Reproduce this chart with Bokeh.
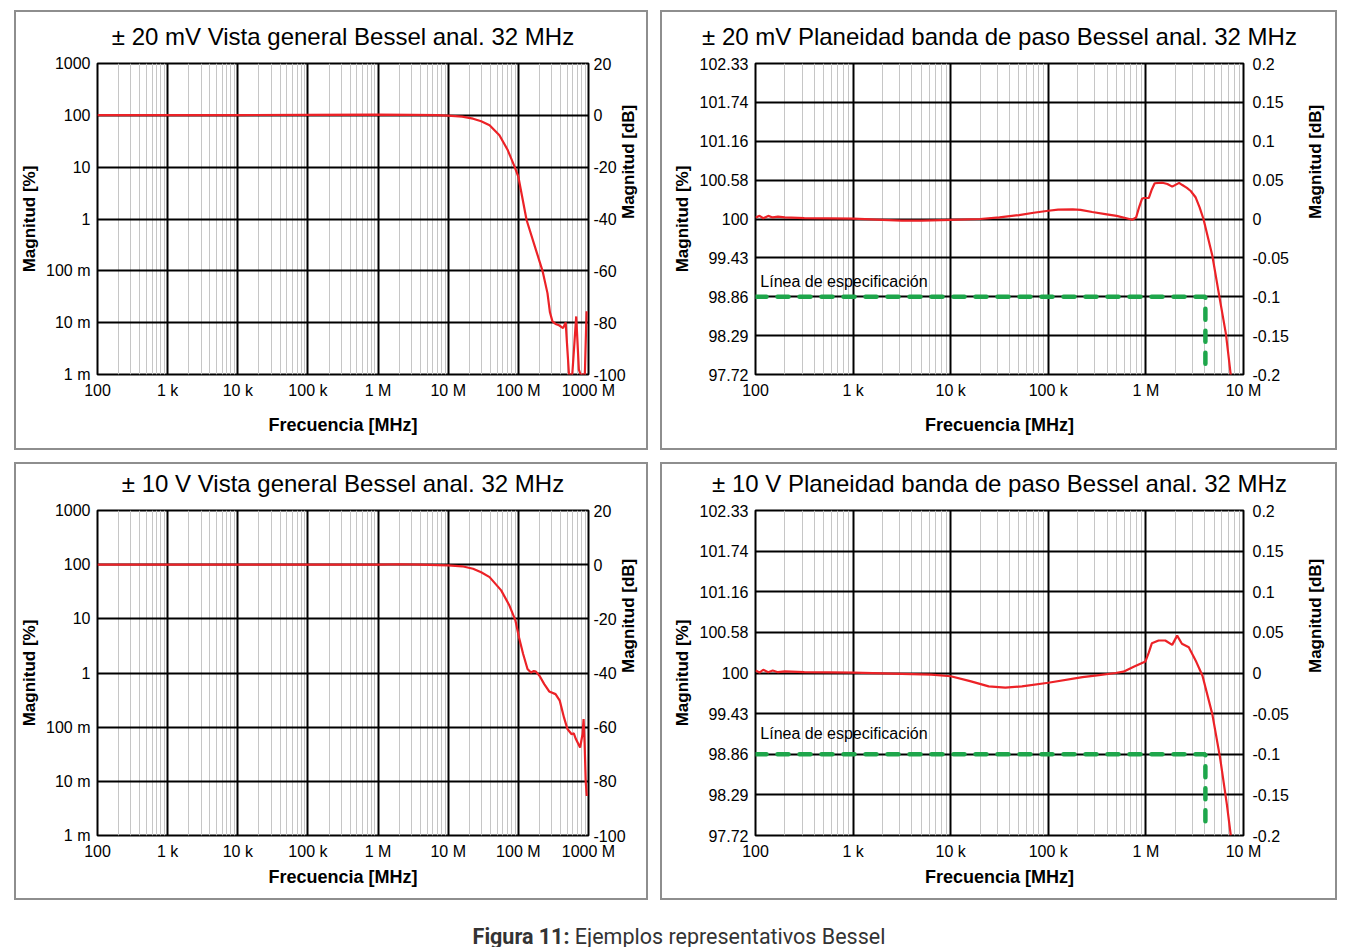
import math
from bokeh.plotting import figure
from bokeh.models import FixedTicker, LinearAxis, LogAxis, Label, Div
from bokeh.layouts import column, row
from bokeh.embed import file_html
from bokeh.resources import INLINE

# ---------------- data ----------------
# Overview charts (magnitude in dB; left axis labelled in %)
OV_X_TICKS = [100, 1000, 10000, 100000, 1000000, 10000000, 100000000, 1000000000]
OV_X_LABELS = ["100", "1 k", "10 k", "100 k", "1 M", "10 M", "100 M", "1000 M"]
OV_Y_TICKS = [-100, -80, -60, -40, -20, 0, 20]
OV_Y_LABELS_PCT = ["1 m", "10 m", "100 m", "1", "10", "100", "1000"]
OV_Y_LABELS_DB = ["-100", "-80", "-60", "-40", "-20", "0", "20"]

# Passband flatness charts
FL_X_TICKS = [100, 1000, 10000, 100000, 1000000, 10000000]
FL_X_LABELS = ["100", "1 k", "10 k", "100 k", "1 M", "10 M"]
FL_Y_TICKS = [-0.2, -0.15, -0.1, -0.05, 0, 0.05, 0.1, 0.15, 0.2]
FL_Y_LABELS_PCT = ["97.72", "98.29", "98.86", "99.43", "100", "100.58", "101.16", "101.74", "102.33"]
FL_Y_LABELS_DB = ["-0.2", "-0.15", "-0.1", "-0.05", "0", "0.05", "0.1", "0.15", "0.2"]

# ±20 mV overview
mv_ov_f = [1e2, 1e3, 1e4, 1e5, 1e6, 3e6, 7e6, 1e7, 1.58e7, 2.26e7, 2.95e7, 3.89e7, 5.37e7,
           7.08e7, 8.77e7, 1e8, 1.31e8, 1.78e8, 2.21e8, 2.6e8, 2.82e8, 3.06e8, 3.39e8, 3.8e8,
           4.34e8, 4.73e8, 4.93e8, 5.27e8, 5.87e8, 6.68e8, 7.29e8, 7.71e8, 8.87e8, 9.38e8]
mv_ov_db = [0.1, 0.1, 0.1, 0.2, 0.3, 0.2, 0.05, -0.1, -0.5, -1.3, -2.3, -3.8, -7.7,
            -13.5, -19.6, -23.7, -40.4, -51.9, -60.0, -68.6, -76.0, -79.5, -80.5, -81.0,
            -82.1, -79.9, -87.8, -100.0, -100.0, -77.6, -98.1, -100.0, -100.0, -75.6]

# ±10 V overview
v_ov_f = [1e2, 1e3, 1e4, 1e5, 1e6, 2e6, 4e6, 1e7, 1.58e7, 2.26e7, 2.95e7, 3.89e7, 5.69e7,
          7.46e7, 9.08e7, 1.02e8, 1.17e8, 1.35e8, 1.51e8, 1.66e8, 1.78e8, 2.0e8, 2.34e8,
          2.75e8, 3.39e8, 3.89e8, 4.47e8, 5.01e8, 5.75e8, 6.17e8, 6.61e8, 7.59e8, 8.22e8,
          8.51e8, 8.81e8, 9.12e8, 9.44e8]
v_ov_db = [0.05, 0.05, 0.05, 0.05, 0.05, 0.15, 0.05, -0.25, -0.6, -1.5, -2.8, -4.6, -9.5,
           -15.1, -20.6, -26.8, -33.0, -38.5, -39.8, -39.3, -39.5, -41.0, -44.1,
           -46.8, -47.8, -50.2, -56.4, -60.7, -62.6, -62.3, -64.4, -67.5, -62.6,
           -57.0, -66.0, -79.9, -85.4]

# ±20 mV passband flatness
mv_fl_f = [100, 110, 120, 135, 150, 170, 200, 316, 1000, 2000, 3160, 5010, 1e4, 2e4, 3.16e4,
           5.01e4, 7.08e4, 1e5, 1.26e5, 1.78e5, 2.14e5, 2.82e5, 3.98e5, 5.01e5, 6.31e5,
           7.24e5, 7.94e5, 8.51e5, 9.12e5, 9.55e5, 1.07e6, 1.15e6, 1.23e6, 1.48e6, 1.66e6,
           1.86e6, 2.19e6, 2.34e6, 2.63e6, 2.88e6, 3.24e6, 3.55e6, 3.89e6, 4.79e6, 5.62e6,
           6.61e6, 7.41e6]
mv_fl_db = [0.002, 0.004, 0.001, 0.004, 0.002, 0.003, 0.002, 0.001, 0.0005, -0.001, -0.002,
            -0.002, -0.001, 0.0, 0.002, 0.005, 0.008, 0.0106, 0.012, 0.0125, 0.0118, 0.009,
            0.006, 0.004, 0.001, -0.001, 0.002, 0.015, 0.026, 0.027, 0.027, 0.038, 0.046,
            0.0467, 0.045, 0.0416, 0.0465, 0.044, 0.04, 0.036, 0.0276, 0.015, 0.0, -0.047,
            -0.0976, -0.148, -0.201]

# ±10 V passband flatness
v_fl_f = [100, 110, 120, 135, 150, 170, 200, 316, 1000, 3160, 6310, 1e4, 1.58e4, 2.45e4,
          3.63e4, 5.37e4, 1e5, 2.24e5, 3.16e5, 4.9e5, 5.89e5, 7.5e5, 9.89e5, 1.07e6, 1.15e6,
          1.35e6, 1.58e6, 1.86e6, 2.09e6, 2.34e6, 2.75e6, 3.24e6, 3.8e6, 4.79e6, 5.75e6,
          6.76e6, 7.41e6]
v_fl_db = [0.003, 0.0005, 0.004, 0.001, 0.003, 0.001, 0.002, 0.001, 0.0005, -0.001, -0.002,
           -0.004, -0.01, -0.0165, -0.018, -0.0165, -0.012, -0.005, -0.003, 0.0, 0.0016,
           0.0078, 0.0143, 0.025, 0.0365, 0.04, 0.04, 0.0346, 0.046, 0.036, 0.0316, 0.0152,
           -0.0033, -0.0506, -0.104, -0.162, -0.2]

# Specification line
spec_f = [100, 4.07e6, 4.07e6]
spec_db = [-0.1, -0.1, -0.193]
SPEC_TEXT = "Línea de especificación"

RED = "#ec2227"
GREEN = "#1ea64b"
FONT = "Liberation Sans"


def minor_ticks(lo_exp, hi_exp):
    return [m * 10 ** k for k in range(lo_exp, hi_exp) for m in range(2, 10)]


def make_panel(title, x_ticks, x_labels, y_ticks, y_pct, y_db, f, db, w, h,
               bl, br, bt, bb, xstand, lstand, rstand, rlabel_standoff,
               spec_label_y=None):
    p = figure(width=w, height=h, x_axis_type="log",
               x_range=(x_ticks[0], x_ticks[-1]), y_range=(y_ticks[0], y_ticks[-1]),
               output_backend="svg", toolbar_location=None,
               min_border_left=bl, min_border_right=br, min_border_top=bt, min_border_bottom=bb,
               background_fill_color="white", border_fill_color="white")

    # axes created by figure (taken before any extra axis is added)
    ax = p.below[0]
    ay = p.left[0]

    # chart title, drawn as the label of an empty axis above the frame
    at = LogAxis(ticker=FixedTicker(ticks=[]), axis_label=title, axis_label_standoff=14)
    at.axis_line_color = None
    at.major_tick_out = 0
    at.major_tick_in = 0
    at.minor_tick_out = 0
    at.minor_tick_in = 0
    at.major_label_standoff = 0
    at.axis_label_text_font = FONT
    at.axis_label_text_font_size = "24px"
    at.axis_label_text_font_style = "normal"
    at.axis_label_text_color = "black"
    at.axis_label_align = "center"
    p.add_layout(at, "above")

    xt = FixedTicker(ticks=x_ticks, minor_ticks=minor_ticks(int(round(math.log10(x_ticks[0]))),
                                                            int(round(math.log10(x_ticks[-1])))))
    yt = FixedTicker(ticks=y_ticks)
    ax.ticker = xt
    ax.major_label_overrides = dict(zip(x_ticks, x_labels))
    ax.axis_label = "Frecuencia [MHz]"
    ax.axis_label_standoff = xstand
    ax.axis_label_text_font_size = "18px"
    ay.ticker = yt
    ay.major_label_overrides = dict(zip(y_ticks, y_pct))
    ay.axis_label = "Magnitud [%]"
    ay.axis_label_standoff = lstand
    ay.axis_label_text_font_size = "17px"
    ar = LinearAxis(ticker=yt, major_label_overrides=dict(zip(y_ticks, y_db)),
                    axis_label="Magnitud [dB]", axis_label_standoff=rstand)
    ar.axis_label_orientation = math.pi / 2
    ar.axis_label_text_font_size = "17px"
    p.add_layout(ar, "right")
    for a in (ax, ay, ar):
        a.axis_line_color = None
        a.major_tick_line_color = None
        a.minor_tick_line_color = None
        a.major_tick_out = 0
        a.minor_tick_out = 0
        a.major_tick_in = 0
        a.minor_tick_in = 0
        a.major_label_text_font = FONT
        a.major_label_text_font_size = "16px"
        a.major_label_text_color = "black"
        a.major_label_standoff = 7
        a.axis_label_text_font = FONT
        a.axis_label_text_font_style = "bold"
        a.axis_label_text_color = "black"
    ar.major_label_standoff = rlabel_standoff

    p.xgrid.ticker = xt
    p.ygrid.ticker = yt
    for g in (p.xgrid, p.ygrid):
        g.grid_line_color = "black"
        g.grid_line_width = 2
        g.grid_line_alpha = 1
    p.xgrid.minor_grid_line_color = "#c6c6c6"
    p.xgrid.minor_grid_line_width = 1
    p.outline_line_color = "black"
    p.outline_line_width = 2
    p.outline_line_alpha = 1

    if spec_label_y is not None:
        p.line(spec_f, spec_db, line_color=GREEN, line_width=4.5, line_dash="11 11",
               line_cap="round")
        p.add_layout(Label(x=112, y=spec_label_y, text=SPEC_TEXT, text_font=FONT,
                           text_font_size="16px", text_baseline="middle", text_color="black"))
    p.line(f, db, line_color=RED, line_width=2.2)
    p.styles = {"border": "2px solid #8e8e8e"}
    return p


p1 = make_panel("± 20 mV Vista general Bessel anal. 32 MHz", OV_X_TICKS, OV_X_LABELS,
                OV_Y_TICKS, OV_Y_LABELS_PCT, OV_Y_LABELS_DB, mv_ov_f, mv_ov_db,
                634, 440, 81, 62, 51, 78, 13, 4, 0, 5)
p2 = make_panel("± 20 mV Planeidad banda de paso Bessel anal. 32 MHz",
                FL_X_TICKS, FL_X_LABELS,
                FL_Y_TICKS, FL_Y_LABELS_PCT, FL_Y_LABELS_DB, mv_fl_f, mv_fl_db,
                677, 440, 93, 96, 51, 74, 13, 5, 24, 9, spec_label_y=-0.081)
p3 = make_panel("± 10 V Vista general Bessel anal. 32 MHz", OV_X_TICKS, OV_X_LABELS,
                OV_Y_TICKS, OV_Y_LABELS_PCT, OV_Y_LABELS_DB, v_ov_f, v_ov_db,
                634, 438, 81, 62, 46, 67, 4, 4, 0, 5)
p4 = make_panel("± 10 V Planeidad banda de paso Bessel anal. 32 MHz",
                FL_X_TICKS, FL_X_LABELS,
                FL_Y_TICKS, FL_Y_LABELS_PCT, FL_Y_LABELS_DB, v_fl_f, v_fl_db,
                677, 438, 93, 96, 46, 67, 4, 5, 24, 9, spec_label_y=-0.075)

p1.margin = (10, 0, 0, 14)
p2.margin = (10, 0, 0, 12)
p3.margin = (12, 0, 0, 14)
p4.margin = (12, 0, 0, 12)

caption = Div(text='<span style="font-weight:bold">Figura 11:</span> Ejemplos representativos Bessel',
              width=1362, height=47,
              styles={"text-align": "center", "font-family": "Roboto", "font-size": "21.5px",
                      "color": "#333333", "padding-top": "17px", "padding-right": "14px",
                      "box-sizing": "border-box"})

layout = column(row(p1, p2), row(p3, p4), caption)

with open("out.html", "w") as fh:
    fh.write(file_html(layout, INLINE))
